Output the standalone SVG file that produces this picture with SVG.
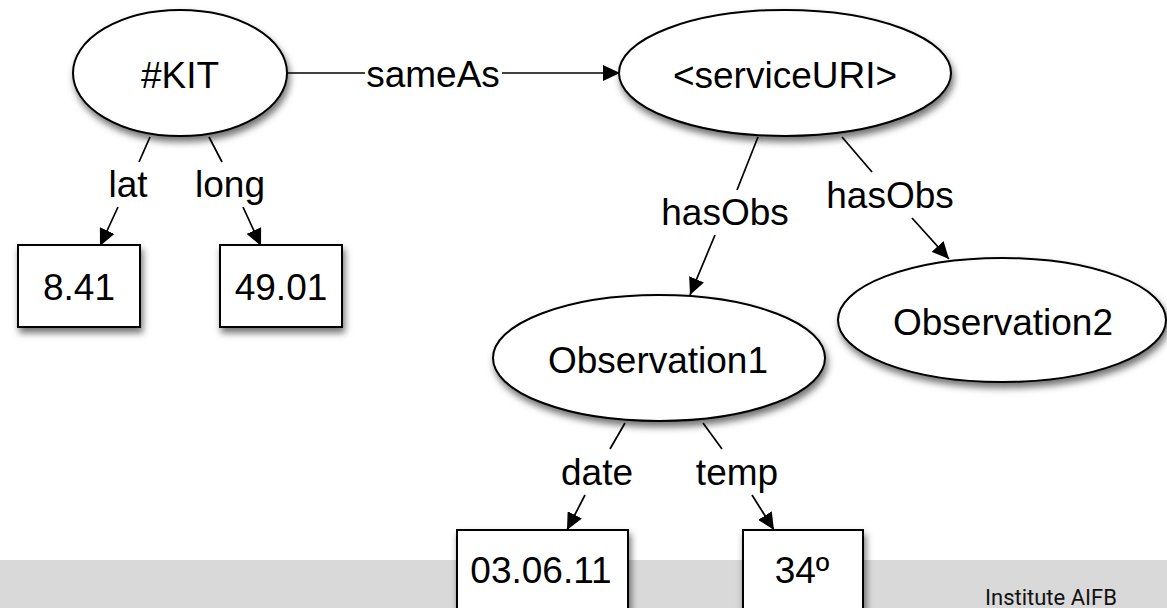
<svg xmlns="http://www.w3.org/2000/svg" width="1167" height="608" viewBox="0 0 1167 608">
  <style>
    .shape { fill: #fff; stroke: #000; stroke-width: 2; filter: url(#shadow); }
    .lbl { font-family: "Liberation Sans", Arial, sans-serif; font-size: 37px; fill: #000; text-anchor: middle; }
    .edge { stroke: #000; stroke-width: 1.7; fill: none; }
    .arrow { marker-end: url(#head); }
    .footer { font-family: Roboto, "Liberation Sans", sans-serif; font-size: 22px; fill: #111; }
  </style>
  <defs>
    <filter id="shadow" x="-20%" y="-20%" width="150%" height="160%">
      <feDropShadow dx="2" dy="5" stdDeviation="3.5" flood-color="#000" flood-opacity="0.55"/>
    </filter>
    <marker id="head" markerUnits="userSpaceOnUse" markerWidth="18" markerHeight="16" refX="17" refY="8" orient="auto">
      <path d="M0,0 L17,8 L0,16 z" fill="#000"/>
    </marker>
  </defs>

  <rect width="1167" height="608" fill="#fff"/>
  <!-- footer band -->
  <rect x="0" y="560" width="1167" height="48" fill="#d9d9d9"/>
  <text class="footer" x="985" y="605">Institute AIFB</text>

  <g id="connectors">
    <!-- sameAs -->
    <line class="edge" x1="287" y1="73" x2="365" y2="73"/>
    <line class="edge arrow" x1="502" y1="73" x2="620" y2="73"/>
    <text class="lbl" x="433" y="87">sameAs</text>
    <!-- lat -->
    <line class="edge" x1="150" y1="137" x2="139" y2="162"/>
    <line class="edge arrow" x1="118" y1="207" x2="100" y2="246"/>
    <text class="lbl" x="128" y="197">lat</text>
    <!-- long -->
    <line class="edge" x1="209" y1="137" x2="222" y2="162"/>
    <line class="edge arrow" x1="243" y1="207" x2="261" y2="246"/>
    <text class="lbl" x="230" y="197">long</text>
    <!-- hasObs to Observation1 -->
    <line class="edge" x1="758" y1="137" x2="737" y2="190"/>
    <line class="edge arrow" x1="715" y1="235" x2="690" y2="295"/>
    <text class="lbl" x="725" y="225">hasObs</text>
    <!-- hasObs to Observation2 -->
    <line class="edge" x1="842" y1="137" x2="872" y2="172"/>
    <line class="edge arrow" x1="912" y1="218" x2="949" y2="259"/>
    <text class="lbl" x="890" y="208">hasObs</text>
    <!-- date -->
    <line class="edge" x1="625" y1="423" x2="610" y2="449"/>
    <line class="edge arrow" x1="585" y1="495" x2="567" y2="530"/>
    <text class="lbl" x="597" y="485">date</text>
    <!-- temp -->
    <line class="edge" x1="703" y1="423" x2="722" y2="449"/>
    <line class="edge arrow" x1="752" y1="495" x2="774" y2="530"/>
    <text class="lbl" x="737" y="485">temp</text>
  </g>

  <g id="kit">
    <ellipse class="shape" cx="180" cy="73" rx="107" ry="63"/>
    <text class="lbl" x="180" y="88">#KIT</text>
  </g>
  <g id="serviceURI">
    <ellipse class="shape" cx="785" cy="73" rx="166" ry="63"/>
    <text class="lbl" x="785" y="88">&lt;serviceURI&gt;</text>
  </g>
  <g id="lat-value">
    <rect class="shape" x="18" y="245" width="122" height="82"/>
    <text class="lbl" x="79" y="300">8.41</text>
  </g>
  <g id="long-value">
    <rect class="shape" x="220" y="245" width="122" height="82"/>
    <text class="lbl" x="281" y="300">49.01</text>
  </g>
  <g id="observation1">
    <ellipse class="shape" cx="659" cy="358" rx="166" ry="63"/>
    <text class="lbl" x="658" y="373">Observation1</text>
  </g>
  <g id="observation2">
    <ellipse class="shape" cx="1002" cy="320" rx="164" ry="62"/>
    <text class="lbl" x="1003" y="335">Observation2</text>
  </g>
  <g id="date-value">
    <rect class="shape" x="457" y="530" width="171" height="90"/>
    <text class="lbl" x="541" y="583">03.06.11</text>
  </g>
  <g id="temp-value">
    <rect class="shape" x="743" y="530" width="120" height="90"/>
    <text class="lbl" x="802" y="583">34º</text>
  </g>
</svg>
